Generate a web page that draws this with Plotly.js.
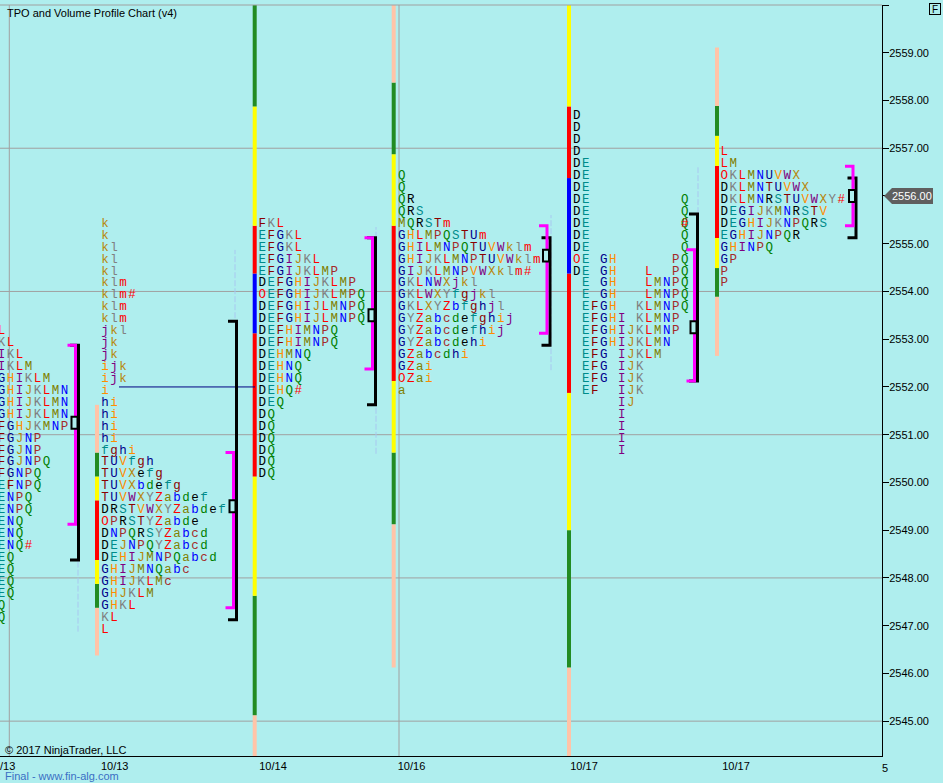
<!DOCTYPE html>
<html><head><meta charset="utf-8">
<script src="https://cdn.plot.ly/plotly-3.0.1.min.js"></script>
<style>html,body{margin:0;padding:0;background:#afeeee;overflow:hidden}#chart{width:943px;height:783px}</style>
</head><body><div id="chart"></div>
<script>
// ---------------- DATA ----------------
const TICK_SIZE = 0.25;
const priceTicks = [2545,2546,2547,2548,2549,2550,2551,2552,2553,2554,2555,2556,2557,2558,2559,2560];
const gridPrices = [2545,2548,2551,2554,2557];
const dateLabels = ["10/13","10/13","10/14","10/16","10/17","10/17"];
const lastPrice = 2556.00;

// TPO profiles: top row price + rows of letters (one row per tick)
const tpoA_top = 2553.25;
const tpoA_rows = ["L","KL","IKL","IKLM","GHIKLM","GHIJKLMN","GHIJKLMN","GHIJKLMN","FGHJKMNP","FGJNP","FGJNP","FGJNPQ","FGNPQ","EFNPQ","ENPQ","ENPQ","ENQ","ENQ","ENQ#","EQ","EQ","EQ","EQ","Q","Q"];

const tpoB_top = 2555.5;
const tpoB_rows = ["k","k","kl","kl","kl","klm","klm#","klm","klm","jkl","jk","jk","ijk","ijk","i","hi","hi","hi","hi","fghi","TUVfgh","TUVXefg","TUVXbdefg","TUVWXYZabdef","DRSTVWXYZabdef","OPRSTYZabde","DNPQRSYZabcd","DEJNPQYZabcd","DEHIJMNPQabcd","GHIJMNQabc","GHIJKLMc","GHJKLM","GHKL","KL","L"];

const tpoC_top = 2555.5;
const tpoC_rows = ["FKL","EFGKL","EFGKL","EFGIJKL","EFGIJKLMP","DEFGHIJKLMP","OEFGHIJKLMPQ","DEFGHIJLMNPQ","DEFGHIJLMNPQ","DEFHIMNPQ","DEFHIMNPQ","DEHMNQ","DEHNQ","DEHNQ","DEHQ#","DEQ","DQ","DQ","DQ","DQ","DQ","DQ"];

const tpoD_top = 2556.5;
const tpoD_rows = ["Q","Q","QR","QRS","MQRSTm","GHLMPQSTUm","GHILMNPQTUVWklm","GHIJKLMNPTUVWklm","GIJKLMNPVWXklm#","GKLNWXjkl","GKLWXYfgjkl","GKLXYZbfghjl","GYZabcdefghij","GYZabcdefhij","GYZabcdehi","GZabcdhi","GZai","OZai","a"];

// this profile keeps one column per period (spaces = empty column)
const tpoE_top = 2557.75;
const tpoE_rows = ["D","D","D","D","DE","DE","DE","DE          Q","DE          Q","DE          Q","DE          Q","DE          Q","OE GH      PQ","DE GH   L  PQ"," E GH   LMNPQ"," E GH   LMNPQ"," EFGH  KLMNPQ"," EFGHI KLMNP"," EFGHIJKLMNP"," EFGHIJKLMN"," EFG IJKLM"," EFG IJK"," EFG IJK"," EF  IJK","     IJ","     I","     I","     I","     I"];
const tpoE_closePrice = 2555.5;   // '#' mark drawn over the Q
const tpoE_closeCol = 12;

const tpoF_top = 2557.0;
const tpoF_rows = ["L","LM","OKLMNUVWX","DKLMNTUVWX","DKLMNRSTUVWXY#","DEGIJKMNRSTV","DEGHIJKNPQRS","EGHIJNPQR","GHINPQ","GP","P","P"];

// value area (magenta), black range, POC for each profile
const vaHigh  = [2552.75, 2550.5, 2555.0, 2555.25, 2554.75, 2556.5];
const vaLow   = [2549.25, 2547.5, 2552.5, 2553.25, 2552.25, 2555.5];
const rngHigh = [2552.75, 2553.25, 2555.0, 2555.0, 2555.5, 2556.25];
const rngLow  = [2548.5, 2547.25, 2551.75, 2553.0, 2552.25, 2555.25];
const pocPrice = [2551.25, 2549.5, 2553.5, 2554.75, 2553.25, 2556.0];

// volume bands per session: [low, high, zone]
const volB_lo = [2546.375,2547.375,2547.875,2548.375,2549.625,2550.125,2550.625];
const volB_hi = [2547.375,2547.875,2548.375,2549.625,2550.125,2550.625,2551.625];
const volB_zone = ["out","edge","mid","core","mid","edge","out"];
const volC_lo = [2544.27,2545.125,2547.625,2550.125,2553.125,2554.375,2555.375,2557.875];
const volC_hi = [2545.125,2547.625,2550.125,2553.125,2554.375,2555.375,2557.875,2560.0];
const volC_zone = ["out","edge","mid","core","poc","core","mid","edge"];
const volD_lo = [2546.125,2549.125,2550.625,2552.125,2555.375,2556.875,2558.375];
const volD_hi = [2549.125,2550.625,2552.125,2555.375,2556.875,2558.375,2560.0];
const volD_zone = ["out","edge","mid","core","mid","edge","out"];
const volE_lo = [2544.27,2546.125,2549.0,2551.875,2554.375,2556.375,2557.875];
const volE_hi = [2546.125,2549.0,2551.875,2554.375,2556.375,2557.875,2560.0];
const volE_zone = ["out","edge","mid","core","poc","core","mid"];
const volF_lo = [2552.65,2553.89,2554.49,2555.12,2556.63,2557.26,2557.885];
const volF_hi = [2553.89,2554.49,2555.12,2556.63,2557.26,2557.885,2559.11];
const volF_zone = ["out","edge","mid","core","mid","edge","out"];

// faint full-range lines
const faintLo = [2546.875, 2553.44, 2550.6, 2552.35, 2555.64];
const faintHi = [2548.375, 2554.87, 2555.35, 2555.6, 2556.6];

// naked level line
const nakedLevel = 2552.0;

// ---------------- LAYOUT CONSTANTS (pixel-based x axis) ----------------
const X_MAX = 882, Y_MIN = 2544.27, Y_MAX = 2560.0;
const PX_PER_PT = 751 / (Y_MAX - Y_MIN);
const TEXT_DY = -3.8 / PX_PER_PT;   // visual baseline nudge for letters
const COL_W = 9;
const profStartX = [1.5, 105, 262.3, 401.7, 576.7, 724.3];
const volBarX = [97, 254.7, 393.7, 569, 717];
const magX = [75.5, 233.5, 372.5, 547, 694.5, 853];
const faintX = [78, 235, 376, 551, 698];
const dateLabelX = [1.5, 114.7, 273, 411.5, 584, 736];
const vGridX = [9.3, 399];
const nakedX = [119, 255];

const BG = '#afeeee';
const zoneColor = {out:'#ffc4a8', edge:'#228b22', mid:'#ffff00', core:'#ff0000', poc:'#0000ff'};
const SEQ = "ABCDEFGHIJKLMNPQRSTUVWXYZabcdefghijklmnopqrstuvwxyz";
const PALETTE = ["#000000","#008b8b","#8b0000","#00008b","#ff8c00","#800080","#b8860b","#808080","#ff0000","#808000","#0000ff","#a52a2a","#008000"];
function letterColor(ch){
  if (ch === 'O' || ch === '#') return '#ff0000';
  const i = SEQ.indexOf(ch), d = SEQ.indexOf('D');
  return PALETTE[((i - d) % 13 + 13) % 13];
}
function py2paper(py){ return 1 - (py - 5) / 751; }

// ---------------- TRACES ----------------
const profiles = [
  [tpoA_top, tpoA_rows], [tpoB_top, tpoB_rows], [tpoC_top, tpoC_rows],
  [tpoD_top, tpoD_rows], [tpoE_top, tpoE_rows], [tpoF_top, tpoF_rows]
];
const traces = [];
profiles.forEach((p, pi) => {
  const [top, rows] = p;
  const xs = [], ys = [], tx = [], cs = [];
  rows.forEach((row, ri) => {
    const price = top - ri * TICK_SIZE;
    for (let c = 0; c < row.length; c++) {
      const ch = row[c];
      if (ch === ' ') continue;
      xs.push(profStartX[pi] + c * COL_W); ys.push(price + TEXT_DY); tx.push(ch); cs.push(letterColor(ch));
    }
  });
  if (pi === 4) {
    xs.push(profStartX[pi] + tpoE_closeCol * COL_W); ys.push(tpoE_closePrice + TEXT_DY); tx.push('#'); cs.push(letterColor('#'));
  }
  traces.push({
    type:'scatter', mode:'text', x:xs, y:ys, text:tx,
    textposition:'middle center',
    textfont:{family:'Liberation Mono, DejaVu Sans Mono, monospace', size:12.5, color:cs},
    hoverinfo:'skip', cliponaxis:true
  });
});

// ---------------- SHAPES ----------------
const shapes = [];
gridPrices.forEach(g => shapes.push({type:'line', xref:'paper', yref:'y', x0:0, x1:1, y0:g, y1:g, line:{color:'#a0a0a0', width:1}, layer:'below'}));
vGridX.forEach(x => shapes.push({type:'line', xref:'x', yref:'paper', x0:x, x1:x, y0:0, y1:1, line:{color:'#a0a0a0', width:1}, layer:'below'}));
shapes.push({type:'line', xref:'paper', yref:'paper', x0:0, x1:1, y0:1, y1:1, line:{color:'#a0a0a0', width:1}});

const vols = [[volB_lo,volB_hi,volB_zone],[volC_lo,volC_hi,volC_zone],[volD_lo,volD_hi,volD_zone],[volE_lo,volE_hi,volE_zone],[volF_lo,volF_hi,volF_zone]];
vols.forEach((v, vi) => {
  const [lo, hi, zn] = v;
  lo.forEach((l, k) => shapes.push({type:'rect', xref:'x', yref:'y', x0:volBarX[vi]-2, x1:volBarX[vi]+2, y0:l, y1:hi[k], fillcolor:zoneColor[zn[k]], line:{width:0}, layer:'below'}));
});

faintX.forEach((x, i) => shapes.push({type:'line', xref:'x', yref:'y', x0:x, x1:x, y0:faintLo[i], y1:faintHi[i], line:{color:'#a8c8f0', width:1, dash:'6px,2px'}, layer:'below'}));

shapes.push({type:'line', xref:'x', yref:'y', x0:nakedX[0], x1:nakedX[1], y0:nakedLevel, y1:nakedLevel, line:{color:'#000080', width:1}});

const half = TICK_SIZE / 2;
magX.forEach((mx, i) => {
  const bx = mx + 3;
  const bt = rngHigh[i] + half, bb = rngLow[i] - half;
  shapes.push({type:'path', xref:'x', yref:'y', path:`M ${bx-8.5},${bt} L ${bx},${bt} L ${bx},${bb} L ${bx-8.5},${bb}`, line:{color:'#000000', width:3}});
  const mt = vaHigh[i] + half, mb = vaLow[i] - half;
  shapes.push({type:'path', xref:'x', yref:'y', path:`M ${mx-8},${mt} L ${mx},${mt} L ${mx},${mb} L ${mx-8},${mb}`, line:{color:'#ff00ff', width:3}});
  shapes.push({type:'rect', xref:'x', yref:'y', x0:mx-4, x1:mx+2, y0:pocPrice[i]-0.125, y1:pocPrice[i]+0.125, fillcolor:BG, line:{color:'#000000', width:2}});
});

// last price marker
const ppx = px => px / X_MAX;
const span = Y_MAX - Y_MIN;
const pyPrice = (lastPrice - Y_MIN) / span;
const hh = 8 / 751;
shapes.push({type:'path', xref:'paper', yref:'paper',
  path:`M ${ppx(884)},${pyPrice} L ${ppx(892)},${pyPrice+hh} L ${ppx(933)},${pyPrice+hh} L ${ppx(933)},${pyPrice-hh} L ${ppx(892)},${pyPrice-hh} Z`,
  fillcolor:'#5f5f5f', line:{width:0}});

// ---------------- ANNOTATIONS ----------------
const annotations = [
  {text:'TPO and Volume Profile Chart (v4)', xref:'paper', yref:'paper', x:ppx(5), y:py2paper(13), xanchor:'left', yanchor:'middle', showarrow:false, font:{size:11, color:'#000'}},
  {text:'© 2017 NinjaTrader, LLC', xref:'paper', yref:'paper', x:ppx(3), y:py2paper(750), xanchor:'left', yanchor:'middle', showarrow:false, font:{size:11, color:'#000'}},
  {text:'Final - www.fin-alg.com', xref:'paper', yref:'paper', x:ppx(3), y:py2paper(776), xanchor:'left', yanchor:'middle', showarrow:false, font:{size:11, color:'#3a6fc4'}},
  {text:'5', xref:'paper', yref:'paper', x:ppx(885), y:py2paper(768), xanchor:'center', yanchor:'middle', showarrow:false, font:{size:11, color:'#000'}},
  {text:'F', xref:'paper', yref:'paper', x:ppx(935), y:py2paper(9.5), xanchor:'center', yanchor:'middle', showarrow:false, font:{size:10, color:'#000'}, bordercolor:'#000', borderwidth:1, borderpad:0, width:10, height:10},
  {text:lastPrice.toFixed(2), xref:'paper', yref:'paper', x:ppx(912.5), y:pyPrice, xanchor:'center', yanchor:'middle', showarrow:false, font:{size:11, color:'#ffffff'}}
];

const layout = {
  width:943, height:783,
  margin:{l:0, r:61, t:5, b:27, pad:0},
  paper_bgcolor:BG, plot_bgcolor:BG, showlegend:false,
  font:{family:'Liberation Sans, Arial, sans-serif', size:11, color:'#000'},
  xaxis:{range:[0, X_MAX], showgrid:false, zeroline:false, showline:true, linecolor:'#000', linewidth:1,
         ticks:'', tickmode:'array', tickvals:dateLabelX, ticktext:dateLabels, tickfont:{size:11, color:'#000'},
         ticklabeloverflow:'allow', automargin:false, fixedrange:true},
  yaxis:{side:'right', range:[Y_MIN, Y_MAX], tickmode:'array', tickvals:priceTicks,
         ticktext:priceTicks.map(v => v === 2560 ? '' : v.toFixed(2)),
         ticks:'outside', ticklen:6, tickcolor:'#000', tickwidth:1, showline:true, linecolor:'#000', linewidth:1,
         ticklabelstandoff:-2,
         showgrid:false, zeroline:false, automargin:false, tickfont:{size:11, color:'#000'}, fixedrange:true},
  shapes:shapes, annotations:annotations
};

Plotly.newPlot('chart', traces, layout, {displayModeBar:false, staticPlot:true});
</script>
</body></html>
